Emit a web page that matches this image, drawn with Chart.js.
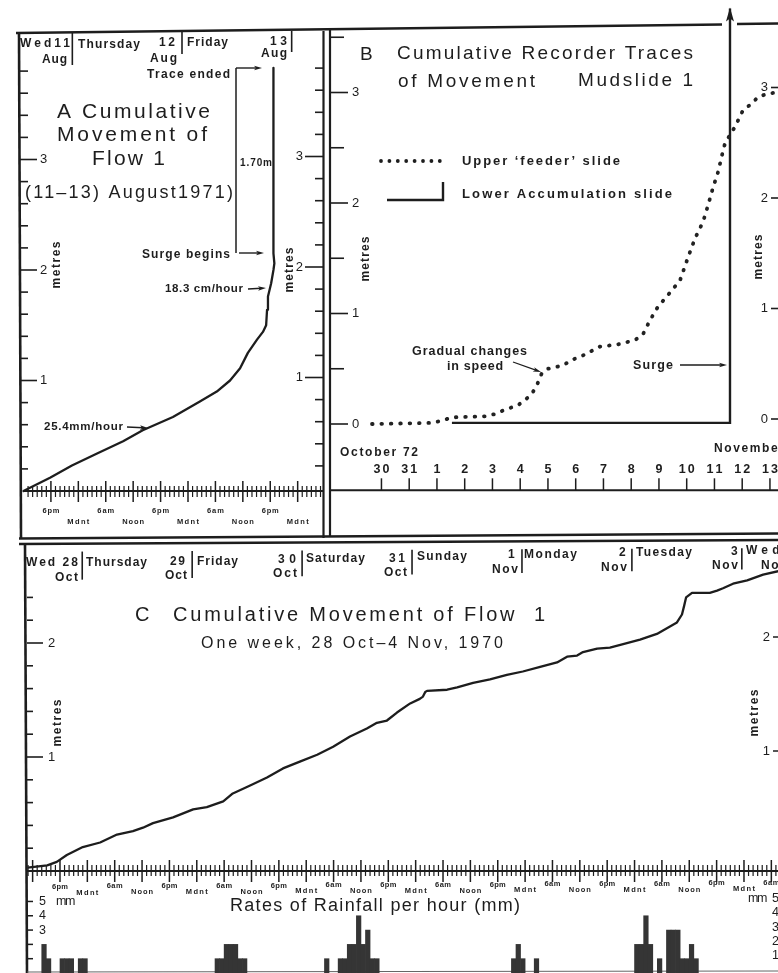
<!DOCTYPE html>
<html>
<head>
<meta charset="utf-8">
<title>Cumulative movement of mudslides</title>
<script src="https://cdn.jsdelivr.net/npm/chart.js@4.4.1/dist/chart.umd.min.js"></script>
<style>
  html, body { margin:0; padding:0; background:#fff; overflow:hidden; }
  #page { position:relative; width:778px; height:973px; background:#fff; }
  #page canvas { position:absolute; left:0; top:0; }
</style>
</head>
<body>
<div id="page">
  <canvas id="chartA" width="778" height="973"></canvas>
  <canvas id="chartB" width="778" height="973"></canvas>
  <canvas id="chartC" width="778" height="973"></canvas>
  <canvas id="chartR" width="778" height="973"></canvas>
</div>
<script>
// ================= DATA =================
// Panel A: hours after noon Wed 11 Aug 1971, cumulative metres
const aHours  = [0, 5.8, 10.6, 16.1, 21.8, 26.1, 32.7, 38.6, 42.3, 45.2, 47.4, 49.1, 51.1, 52.4, 53.1, 53.3, 53.5, 54.2, 54.7, 54.9, 54.7, 54.7];
const aMetres = [0, 0.12, 0.23, 0.34, 0.45, 0.55, 0.67, 0.81, 0.90, 1.00, 1.11, 1.25, 1.37, 1.44, 1.50, 1.64, 1.76, 1.88, 2.00, 2.06, 2.15, 3.83];

// Panel B: day of November 1972 (0 = 31 Oct), cumulative metres
const bUpperDay    = [-1.34, 0.82, 1.18, 1.54, 2.73, 3.09, 3.45, 3.92, 4.28, 4.46, 4.60, 4.78, 5.00, 5.54, 5.86, 6.26, 6.87, 7.52, 8.14, 8.42, 8.68, 8.96, 9.40, 9.76, 10.05, 10.30, 10.59, 10.77, 10.95, 11.13, 11.27, 11.38, 11.74, 12.03, 12.35, 12.57, 12.93, 13.25];
const bUpperMetres = [0, 0.01, 0.03, 0.06, 0.07, 0.09, 0.13, 0.17, 0.24, 0.29, 0.35, 0.46, 0.50, 0.53, 0.58, 0.62, 0.70, 0.72, 0.76, 0.81, 0.94, 1.06, 1.19, 1.30, 1.51, 1.68, 1.83, 1.98, 2.14, 2.28, 2.43, 2.54, 2.69, 2.84, 2.90, 2.96, 2.99, 3.00];
const bLowerDay    = [1.54, 11.56, 11.56];
const bLowerMetres = [0.01, 0.01, 3.76];
const bDays      = [-1, 0, 1, 2, 3, 4, 5, 6, 7, 8, 9, 10, 11, 12, 13];
const bDayLabels = ['30','31','1','2','3','4','5','6','7','8','9','10','11','12','13'];

// Panel C: hours after midnight starting Wed 28 Oct 1970, cumulative metres
const cHours  = [10.9, 15.2, 17.3, 19.5, 23.0, 26.8, 30.5, 34.0, 36.2, 38.4, 42.8, 47.2, 50.2, 53.8, 55.9, 59.7, 63.4, 66.9, 70.6, 74.4, 77.9, 81.6, 85.3, 87.5, 89.7, 91.9, 94.8, 96.9, 97.6, 98.1, 98.5, 102.9, 105.1, 108.6, 112.3, 116.0, 119.5, 123.3, 127.0, 129.2, 131.4, 132.7, 135.8, 138.6, 141.5, 145.2, 148.9, 151.1, 153.3, 154.4, 154.9, 155.3, 156.6, 160.5, 162.1, 163.4, 165.6, 168.7, 172.2, 175.5];
const cMetres = [0.03, 0.05, 0.08, 0.14, 0.21, 0.25, 0.32, 0.35, 0.38, 0.42, 0.47, 0.54, 0.56, 0.61, 0.68, 0.75, 0.82, 0.90, 0.96, 1.02, 1.09, 1.18, 1.25, 1.30, 1.32, 1.39, 1.47, 1.51, 1.53, 1.57, 1.58, 1.59, 1.61, 1.65, 1.68, 1.72, 1.75, 1.79, 1.83, 1.88, 1.89, 1.92, 1.95, 1.96, 1.99, 2.03, 2.08, 2.13, 2.18, 2.25, 2.33, 2.40, 2.44, 2.44, 2.46, 2.48, 2.52, 2.55, 2.60, 2.63];

// Rainfall: starting hour (same clock as panel C), mm per hour
const rainHour = [14,15,18,19,20,22,23,52,53,54,55,56,57,58,76,79,80,81,82,83,84,85,86,87,117,118,119,122,144,145,146,147,149,151,152,153,154,155,156,157];
const rainMm   = [2,1,1,1,1,1,1,1,1,2,2,2,1,1,1,1,1,2,2,4,2,3,1,1,1,2,1,1,2,2,4,2,1,3,3,3,1,1,2,1];

// Clock tick labels
const clockHours = [0, 6, 12, 18];
const clockNames = ['Mdnt', '6am', 'Noon', '6pm'];
const aMetreTicks = [1, 2, 3];
const bMetreTicks = [0, 1, 2, 3];
const cMetreTicks = [1, 2];
const rainTicks = [1, 2, 3, 4, 5];
const rainLabelled = [3, 4, 5];

// ================= DRAW HELPERS =================
const INK = '#1d1d1d';
const FONT = '"Liberation Sans", Arial, Helvetica, sans-serif';

function T(ctx, s, x, y, size, w, o) {
  o = o || {};
  ctx.save();
  ctx.font = (o.bold ? 'bold ' : '') + size + 'px ' + FONT;
  ctx.fillStyle = o.color || INK;
  ctx.textBaseline = 'middle';
  ctx.textAlign = 'left';
  const nat = ctx.measureText(s).width;
  const n = Array.from(s).length;
  let ls = 0;
  if (w && n > 1) ls = Math.max(-1.5, (w - nat) / (n - 1));
  const total = nat + ls * (n - 1);
  let x0 = x, y0 = y;
  if (o.align === 'center') x0 = x - total / 2;
  else if (o.align === 'right') x0 = x - total;
  if (o.rot) {
    ctx.translate(x, y);
    ctx.rotate(o.rot);
    x0 = -total / 2; y0 = 0;
  }
  if ('letterSpacing' in ctx) ctx.letterSpacing = ls.toFixed(2) + 'px';
  ctx.fillText(s, x0, y0);
  ctx.restore();
}
function L(ctx, p, lw, color) {
  ctx.save();
  ctx.strokeStyle = color || INK;
  ctx.lineWidth = lw || 1.5;
  ctx.lineCap = 'butt';
  ctx.beginPath();
  ctx.moveTo(p[0], p[1]);
  for (let i = 2; i < p.length; i += 2) ctx.lineTo(p[i], p[i + 1]);
  ctx.stroke();
  ctx.restore();
}
function arrow(ctx, x1, y1, x2, y2, lw, head, half) {
  head = head || 8; half = half || 2.3;
  const a = Math.atan2(y2 - y1, x2 - x1);
  L(ctx, [x1, y1, x2 - Math.cos(a) * head * 0.6, y2 - Math.sin(a) * head * 0.6], lw || 1.3);
  ctx.save();
  ctx.fillStyle = INK;
  ctx.beginPath();
  ctx.moveTo(x2, y2);
  ctx.lineTo(x2 - head * Math.cos(a) + half * Math.sin(a), y2 - head * Math.sin(a) - half * Math.cos(a));
  ctx.lineTo(x2 - head * Math.cos(a) * 0.75, y2 - head * Math.sin(a) * 0.75);
  ctx.lineTo(x2 - head * Math.cos(a) - half * Math.sin(a), y2 - head * Math.sin(a) + half * Math.cos(a));
  ctx.closePath();
  ctx.fill();
  ctx.restore();
}
const pts = (xs, ys) => xs.map((x, i) => ({ x: x, y: ys[i] }));
const clockName = h => clockNames[clockHours.indexOf(((h % 24) + 24) % 24)];

function baseOptions(pad, xr, yr) {
  return {
    responsive: false, animation: false, devicePixelRatio: 1, events: [],
    layout: { padding: pad },
    plugins: { legend: { display: false }, tooltip: { enabled: false }, title: { display: false } },
    scales: {
      x: { type: 'linear', min: xr[0], max: xr[1], display: false, offset: false },
      y: { type: 'linear', min: yr[0], max: yr[1], display: false }
    }
  };
}

// ================= PANEL A =================
const plugA = {
  id: 'decoA',
  beforeDatasetsDraw(chart) {
    const ctx = chart.ctx, xs = chart.scales.x, ys = chart.scales.y;
    // page frame
    L(ctx, [16, 33, 722, 24.5], 2.6);
    L(ctx, [737, 24, 778, 23.5], 2.6);
    L(ctx, [19, 33, 21, 539], 2.6);
    L(ctx, [323.5, 31, 323.5, 538], 2.2);
    L(ctx, [330, 29, 330, 536], 2.2);
    L(ctx, [19, 538.5, 778, 533.5], 2.4);
    L(ctx, [19, 544, 778, 540], 2.4);
    L(ctx, [25, 544, 27, 973], 2.6);

    // day header
    const hdr = [['Wed11',20,44,50],['Aug',42,60,25],['Thursday',78,45,62],['12',159,43,16],['Aug',150,59,27],
                 ['Friday',187,43,41],['13',270,42,17],['Aug',261,54,26]];
    hdr.forEach(h => T(ctx, h[0], h[1], h[2], 12, h[3], { bold: true }));
    const mids = [12, 36, 60], bots = [65, 54, 52];
    mids.forEach((h, i) => { const px = xs.getPixelForValue(h) - 6; L(ctx, [px, 33 - i, px, bots[i]], 1.6); });

    // left metre axis
    for (let i = 1; i <= 19; i++) {
      const py = ys.getPixelForValue(i * 0.2);
      L(ctx, [20, py, i % 5 === 0 ? 37 : 28, py], 1.6);
    }
    aMetreTicks.forEach(v => T(ctx, String(v), 40, ys.getPixelForValue(v), 13, 0));
    // right metre axis
    for (let i = 1; i <= 19; i++) {
      const py = ys.getPixelForValue(i * 0.2) - 3;
      L(ctx, [i % 5 === 0 ? 305 : 315, py, 323, py], 1.6);
    }
    aMetreTicks.forEach(v => T(ctx, String(v), 303, ys.getPixelForValue(v) - 3, 13, 0, { align: 'right' }));
    T(ctx, 'metres', 57, 265, 12, 47, { bold: true, rot: -Math.PI / 2 });
    T(ctx, 'metres', 290, 270, 12, 45, { bold: true, rot: -Math.PI / 2 });

    // time axis
    const y0 = ys.getPixelForValue(0);
    L(ctx, [xs.getPixelForValue(0), y0, 323, y0], 2);
    for (let h = 1; h <= 65; h++) {
      const px = xs.getPixelForValue(h);
      if (h % 6 === 0) L(ctx, [px, y0 - 10, px, y0 + 11], 1.5);
      else L(ctx, [px, y0 - 5, px, y0 + 6], 1.2);
    }
    for (let h = 6; h <= 60; h += 6) {
      const nm = clockName(h + 12);
      const upper = (nm === '6pm' || nm === '6am');
      T(ctx, nm, xs.getPixelForValue(h), upper ? y0 + 20 : y0 + 31, 7.5, upper ? 17 : 22, { bold: true, align: 'center' });
    }
  },
  afterDatasetsDraw(chart) {
    const ctx = chart.ctx;
    T(ctx, 'A Cumulative', 57, 112, 21, 153);
    T(ctx, 'Movement of', 57, 135, 21, 150);
    T(ctx, 'Flow 1', 92, 159, 21, 73);
    T(ctx, '(11\u201313) August1971)', 25, 193, 18, 208);
    T(ctx, 'Trace ended', 147, 75, 12, 83, { bold: true });
    T(ctx, '1.70m', 240, 163, 10, 32, { bold: true });
    T(ctx, 'Surge begins', 142, 255, 12, 88, { bold: true });
    T(ctx, '18.3 cm/hour', 165, 289, 11.5, 78, { bold: true });
    T(ctx, '25.4mm/hour', 44, 427, 11.5, 79, { bold: true });
    L(ctx, [236, 68, 236, 253], 1.5);
    arrow(ctx, 236, 68, 262, 68, 1.4);
    arrow(ctx, 239, 253, 264, 253, 1.4);
    arrow(ctx, 248, 289, 266, 288, 1.3);
    arrow(ctx, 127, 427, 148, 428, 1.3);
  }
};

new Chart(document.getElementById('chartA'), {
  type: 'scatter',
  data: { datasets: [{
    label: 'Flow 1, 11-13 Aug 1971',
    data: pts(aHours, aMetres), showLine: true, borderColor: INK, borderWidth: 2.3,
    pointRadius: 0, tension: 0, clip: false, borderJoinStyle: 'round', borderCapStyle: 'round'
  }] },
  options: baseOptions({ left: 23.5, right: 455.2, top: 49, bottom: 482 }, [0, 65.5], [0, 4]),
  plugins: [plugA]
});

// ================= PANEL B =================
const plugB = {
  id: 'decoB',
  beforeDatasetsDraw(chart) {
    const ctx = chart.ctx, xs = chart.scales.x, ys = chart.scales.y, ca = chart.chartArea;
    // left metre axis
    for (let i = 0; i <= 7; i++) {
      const py = ys.getPixelForValue(i * 0.5);
      L(ctx, [331, py, i % 2 === 0 ? 348 : 344, py], 1.6);
    }
    bMetreTicks.forEach(v => T(ctx, String(v), 352, ys.getPixelForValue(v), 13, 0));
    T(ctx, 'metres', 366, 259, 12, 45, { bold: true, rot: -Math.PI / 2 });
    // neighbouring panel's axis at right edge
    bMetreTicks.forEach(v => {
      const py = ys.getPixelForValue(v) - 5;
      L(ctx, [771, py, 778, py], 1.6);
      T(ctx, String(v), 768, py, 13, 0, { align: 'right' });
    });
    T(ctx, 'metres', 759, 257, 12, 45, { bold: true, rot: -Math.PI / 2 });
    // date axis
    const yb = ca.bottom;
    L(ctx, [331, yb, 778, yb], 2);
    bDays.forEach((d, i) => {
      const px = xs.getPixelForValue(d);
      L(ctx, [px, yb - 12, px, yb], 1.5);
      const s = bDayLabels[i];
      T(ctx, s, px, 470, 12.5, s.length > 1 ? 16 : 0, { bold: true, align: 'center' });
    });
    T(ctx, 'October 72', 340, 453, 12, 78, { bold: true });
    T(ctx, 'November', 714, 449, 12, 70, { bold: true });
  },
  afterDatasetsDraw(chart) {
    const ctx = chart.ctx;
    // arrow head on the lower slide trace (it left the chart)
    const meta = chart.getDatasetMeta(1);
    const top = meta.data[meta.data.length - 1];
    ctx.save();
    ctx.fillStyle = INK;
    ctx.beginPath();
    ctx.moveTo(top.x, top.y - 1);
    ctx.lineTo(top.x - 4, top.y + 13);
    ctx.lineTo(top.x, top.y + 10);
    ctx.lineTo(top.x + 4, top.y + 13);
    ctx.closePath();
    ctx.fill();
    ctx.restore();
    // title
    T(ctx, 'B', 360, 55, 19, 0);
    T(ctx, 'Cumulative Recorder Traces', 397, 54, 19, 296);
    T(ctx, 'of Movement', 398, 82, 19, 137);
    T(ctx, 'Mudslide 1', 578, 81, 19, 115);
    // legend
    ctx.save();
    ctx.fillStyle = INK;
    for (let i = 0; i < 8; i++) { ctx.beginPath(); ctx.arc(381 + i * 8.4, 161, 1.9, 0, Math.PI * 2); ctx.fill(); }
    ctx.restore();
    T(ctx, 'Upper \u2018feeder\u2019 slide', 462, 161, 13, 158, { bold: true });
    L(ctx, [387, 200, 443, 200, 443, 182], 2.4);
    T(ctx, 'Lower Accumulation slide', 462, 194, 13, 210, { bold: true });
    // annotations
    T(ctx, 'Gradual changes', 412, 352, 12.5, 115, { bold: true });
    T(ctx, 'in speed', 447, 367, 12.5, 56, { bold: true });
    arrow(ctx, 513, 362, 541, 372, 1.3);
    T(ctx, 'Surge', 633, 366, 12.5, 40, { bold: true });
    arrow(ctx, 680, 365, 727, 365, 1.3);
  }
};

new Chart(document.getElementById('chartB'), {
  type: 'scatter',
  data: { datasets: [
    { label: "Upper 'feeder' slide", data: pts(bUpperDay, bUpperMetres), showLine: true,
      borderColor: '#222', borderWidth: 3.8, borderDash: [0.6, 8.8], borderCapStyle: 'round',
      pointRadius: 0, tension: 0, clip: false },
    { label: 'Lower Accumulation slide', data: pts(bLowerDay, bLowerMetres), showLine: true,
      borderColor: INK, borderWidth: 2.4, pointRadius: 0, tension: 0, clip: false }
  ] },
  options: baseOptions({ left: 331.5, right: 0, top: 26.2, bottom: 482.7 }, [-2.8, 13.29], [-0.6, 3.6]),
  plugins: [plugB]
});

// ================= PANEL C =================
const plugC = {
  id: 'decoC',
  beforeDatasetsDraw(chart) {
    const ctx = chart.ctx, xs = chart.scales.x, ys = chart.scales.y;
    // day header
    const hdr = [['Wed 28',26,563,52],['Oct',55,578,23],['Thursday',86,563,61],['29',170,562,15],['Oct',165,576,22],
      ['Friday',197,562,41],['30',278,560,18],['Oct',273,574,24],['Saturday',306,559,59],['31',389,559,16],['Oct',384,573,23],
      ['Sunday',417,557,50],['1',508,555,0],['Nov',492,570,26],['Monday',524,555,53],['2',619,553,0],['Nov',601,568,26],
      ['Tuesday',636,553,56],['3',731,552,0],['Nov',712,566,26],['Wednesday',746,551,100],['Nov',761,566,26]];
    hdr.forEach(h => T(ctx, h[0], h[1], h[2], 12, h[3], { bold: true }));
    for (let k = 24; k <= 168; k += 24) {
      const p = xs.getPixelForValue(k);
      const px = p - 5.5 + 3.5 * (p / 778);
      L(ctx, [px, 552 - 4 * (p / 778), px, 581 - 12 * (p / 778)], 1.6);
    }
    // metre axis
    for (let i = 1; i <= 12; i++) {
      const py = ys.getPixelForValue(i * 0.2);
      L(ctx, [27, py, i % 5 === 0 ? 43 : 33, py], 1.6);
    }
    cMetreTicks.forEach(v => T(ctx, String(v), 48, ys.getPixelForValue(v), 13, 0));
    T(ctx, 'metres', 58, 723, 12, 47, { bold: true, rot: -Math.PI / 2 });
    cMetreTicks.forEach(v => {
      const py = ys.getPixelForValue(v) - 6;
      L(ctx, [773, py, 778, py], 1.5);
      T(ctx, String(v), 770, py, 13, 0, { align: 'right' });
    });
    T(ctx, 'metres', 755, 713, 12, 47, { bold: true, rot: -Math.PI / 2 });
    // time axis
    const y0 = ys.getPixelForValue(0);
    L(ctx, [27, y0, 778, y0], 2);
    for (let h = 11; h <= 175; h++) {
      const px = xs.getPixelForValue(h);
      if (h % 6 === 0) L(ctx, [px, y0 - 11, px, y0 + 11], 1.5);
      else L(ctx, [px, y0 - 6, px, y0 + 5], 1.2);
    }
    for (let h = 18; h <= 174; h += 6) {
      const px = xs.getPixelForValue(h);
      const nm = clockName(h);
      const upper = (nm === '6pm' || nm === '6am');
      const tilt = -4 * (px / 778);
      T(ctx, nm, px, (upper ? y0 + 16 : y0 + 22) + tilt, 7.5, upper ? 16 : 22, { bold: true, align: 'center' });
    }
  },
  afterDatasetsDraw(chart) {
    const ctx = chart.ctx;
    T(ctx, 'C', 135, 615, 20, 0);
    T(ctx, 'Cumulative Movement of Flow  1', 173, 615, 20, 372);
    T(ctx, 'One week, 28 Oct\u20134 Nov, 1970', 201, 644, 16, 302);
  }
};

new Chart(document.getElementById('chartC'), {
  type: 'scatter',
  data: { datasets: [{
    label: 'Flow 1, 28 Oct - 4 Nov 1970',
    data: pts(cHours, cMetres), showLine: true, borderColor: INK, borderWidth: 2.3,
    pointRadius: 0, tension: 0, clip: false, borderJoinStyle: 'round'
  }] },
  options: baseOptions({ left: 27.15, right: 0, top: 563.2, bottom: 102 }, [10.8, 175.46], [0, 2.7]),
  plugins: [plugC]
});

// ================= RAINFALL =================
const plugR = {
  id: 'decoR',
  beforeDatasetsDraw(chart) {
    const ctx = chart.ctx, ys = chart.scales.y;
    rainTicks.forEach(v => {
      const py = ys.getPixelForValue(v);
      L(ctx, [27, py, 33, py], 1.5);
      T(ctx, String(v), 779, py - 3, 12.5, 0, { align: 'right' });
    });
    rainLabelled.forEach(v => T(ctx, String(v), 39, ys.getPixelForValue(v), 12.5, 0));
    T(ctx, 'mm', 56, ys.getPixelForValue(5), 12.5, 19);
    T(ctx, 'mm', 748, ys.getPixelForValue(5) - 3, 12.5, 18);
    T(ctx, 'Rates of Rainfall per hour (mm)', 230, 906, 18, 290);
    L(ctx, [27, 972, 778, 971], 1.2, '#666');
  }
};

new Chart(document.getElementById('chartR'), {
  type: 'bar',
  data: { datasets: [{
    label: 'Rainfall (mm per hour)',
    data: rainHour.map((h, i) => ({ x: h + 0.5, y: rainMm[i] })),
    backgroundColor: '#353535', borderWidth: 0, barPercentage: 1, categoryPercentage: 1, clip: false
  }] },
  options: baseOptions({ left: 27.15, right: 0, top: 898.6, bottom: 0 }, [10.8, 175.46], [0, 5.2]),
  plugins: [plugR]
});
</script>
</body>
</html>
